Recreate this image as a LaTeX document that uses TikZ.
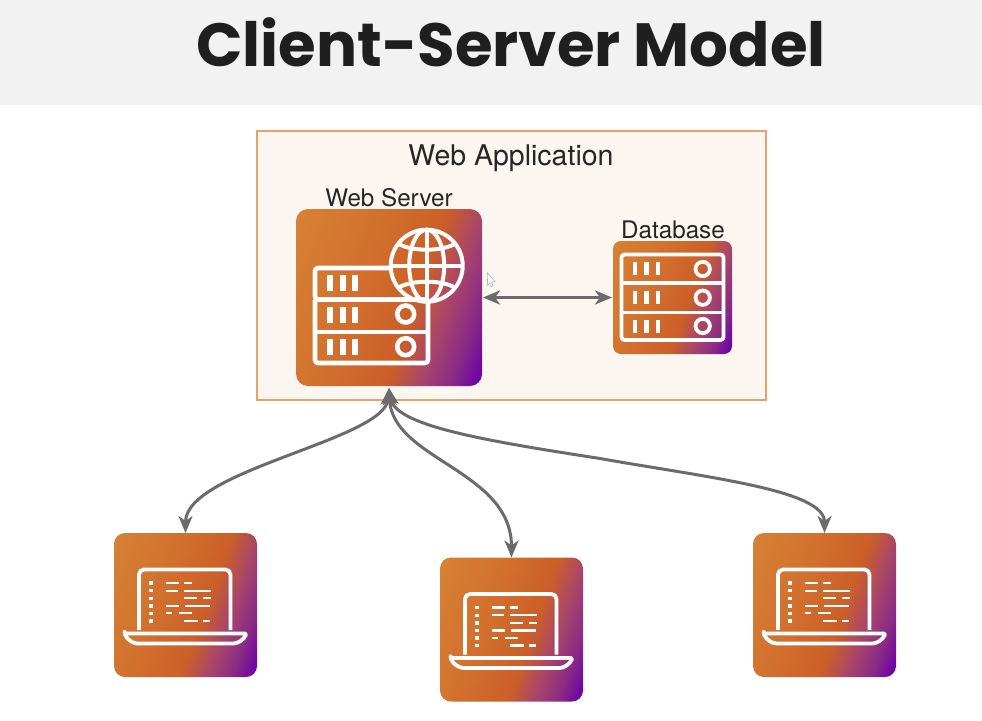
\documentclass[tikz,border=0pt]{standalone}
\usepackage{fontspec}
\setmainfont{TeX Gyre Heros}
\newfontfamily\titlefont{Poppins}
\usetikzlibrary{arrows.meta}
\definecolor{band}{HTML}{F2F2F2}
\definecolor{appfill}{HTML}{FCF6F1}
\definecolor{appedge}{HTML}{E5A26C}
\definecolor{conn}{HTML}{6B6B6B}
\definecolor{labelink}{HTML}{262626}
\definecolor{gA}{HTML}{D68235}
\definecolor{gB}{HTML}{D2702E}
\definecolor{gC}{HTML}{CC5F28}
\definecolor{gD}{HTML}{A8456A}
\definecolor{gE}{HTML}{8A2A85}
\definecolor{gF}{HTML}{6A00A8}
\pgfdeclareverticalshading{brand}{100bp}{color(0bp)=(gA); color(18bp)=(gA); color(40bp)=(gB); color(57bp)=(gC); color(66bp)=(gD); color(74bp)=(gE); color(81bp)=(gF); color(100bp)=(gF)}
\tikzset{
  tile/.style={shading=brand, shading angle=-110, inner sep=0pt, outer sep=0pt},
  lbl/.style={text=labelink, inner sep=0pt, anchor=base},
  link/.style={draw=conn, line width=3pt, {Stealth[length=17pt,width=14pt,inset=5pt]}-{Stealth[length=17pt,width=14pt,inset=5pt]}},
  ink/.style={draw=white, line width=#1, line join=round},
  laptop/.pic={
    \draw[ink=3.8pt, rounded corners=5pt] (-46.5,25) -- (-46.5,-35.5) -- (45,-35.5) -- (45,25);
    \draw[ink=3.8pt, rounded corners=2pt] (-61,28.5) -- (61,28.5) .. controls (58,35) and (52,38.5) .. (46,38.5) -- (-46,38.5) .. controls (-52,38.5) and (-58,35) .. (-61,28.5) -- cycle;
    \foreach \yy in {-22,-14.3,-6.7,1,8.3,16} \fill[white] (-36.2,\yy-1.7) rectangle (-32.8,\yy+1.7);
    \foreach \aa/\bb/\yy in {-19.8/-6.5/-22,-1.2/6.2/-22,-19.8/-7.2/-14.3,-1.2/25.5/-14.3,-1.2/11.8/-6.7,17.8/25.2/-6.7,-19.8/-6.5/1,-0.5/24.5/1,-19.8/-13.2/8.3,-6.5/6.2/8.3,-1.2/12.2/16,17.8/24.5/16}
      \draw[ink=2.1pt] (\aa,\yy) -- (\bb,\yy);
  }
}
\begin{document}
\begin{tikzpicture}[x=1pt,y=-1pt]
\useasboundingbox (0,0) rectangle (982,720);
\fill[band] (0,0) rectangle (982,105);
\node[lbl, font=\titlefont\bfseries\fontsize{61}{63}\selectfont, text=black!88] (title) at (511,66) {Client-Server Model};

\node[draw=appedge, fill=appfill, line width=1.3pt, minimum width=509pt, minimum height=269pt, inner sep=0pt] (app) at (511.5,265.5) {};
\node[lbl, font=\fontsize{28.5}{30}\selectfont] (applabel) at (511,165) {Web Application};
\node[lbl, font=\fontsize{24.2}{26}\selectfont] (wslabel) at (389,206) {Web Server};
\node[lbl, font=\fontsize{24.2}{26}\selectfont] (dblabel) at (673,238) {Database};

\node[tile, rounded corners=12pt, minimum width=186pt, minimum height=177pt] (ws) at (389,297.5) {};
\node[tile, rounded corners=8pt, minimum width=119pt, minimum height=113pt] (db) at (672.5,297.5) {};
\node[tile, rounded corners=11pt, minimum width=143pt, minimum height=144pt] (c1) at (185.5,605) {};
\node[tile, rounded corners=11pt, minimum width=143pt, minimum height=144pt] (c2) at (511.5,629.5) {};
\node[tile, rounded corners=11pt, minimum width=143pt, minimum height=144pt] (c3) at (824.5,605) {};

% web server icon
\draw[ink=4.6pt, rounded corners=3pt] (392,268) -- (315,268) -- (315,299.5) -- (428,299.5);
\draw[ink=4.6pt, rounded corners=3pt] (315,299.5) -- (315,363) -- (428,363) -- (428,299.5);
\draw[ink=4.6pt] (315,332) -- (428,332);
\foreach \yy in {275,307,339} \foreach \xx in {327,340,352}
  \fill[white] (\xx,\yy) rectangle (\xx+6,\yy+15.5);
\draw[ink=4.6pt] (405.7,314) circle[radius=8.5];
\draw[ink=4.6pt] (405.7,346.7) circle[radius=8.5];
\begin{scope}[shift={(426.7,265.7)}]
  \draw[ink=4pt] (0,0) circle[radius=36];
  \draw[ink=4pt] (0,0) ellipse[x radius=17.5, y radius=36];
  \draw[ink=4pt] (0,-36) -- (0,36);
  \draw[ink=4pt] (-36,0) -- (36,0);
  \draw[ink=4pt] (-28.5,-22) .. controls (-15,-14) and (15,-14) .. (28.5,-22);
  \draw[ink=4pt] (-28.5,22) .. controls (-15,14) and (15,14) .. (28.5,22);
\end{scope}

% database icon
\draw[ink=3.8pt, rounded corners=3pt] (621.5,254.5) rectangle (723.5,340);
\draw[ink=3.8pt] (621.5,283) -- (723.5,283);
\draw[ink=3.8pt] (621.5,312.5) -- (723.5,312.5);
\foreach \yy in {261.7,291,320} \foreach \xx in {632.7,644.2,655.8}
  \fill[white] (\xx,\yy) rectangle (\xx+4.4,\yy+13);
\foreach \yy in {269,297.7,326}
  \draw[ink=3.8pt] (702.7,\yy) circle[radius=7.2];

% laptops
\pic at (c1.center) {laptop};
\pic at (c2.center) {laptop};
\pic at (c3.center) {laptop};

% connectors
\path (ws.east) ++(1,0) coordinate (wsE) (db.west) ++(-1,0) coordinate (dbW);
\path (ws.south) ++(0,2) coordinate (wsS);
\draw[link] (wsE) -- (dbW);
\draw[link] (wsS) .. controls (385,440) and (185.5,470) .. (c1.north);
\draw[link] (wsS) .. controls (392,460) and (511.5,470) .. (c2.north);
\draw[link] (wsS) .. controls (395,425) and (480,440) .. (597,458) .. controls (710,478) and (824.5,490) .. (c3.north);

% pointer
\draw[draw=black!30, fill=white, line width=0.6pt] (487.3,272.7) -- (495,281.7) -- (491.7,282) -- (493,286) -- (491,286.6) -- (489.6,283) -- (487.6,285.5) -- cycle;
\end{tikzpicture}
\end{document}
